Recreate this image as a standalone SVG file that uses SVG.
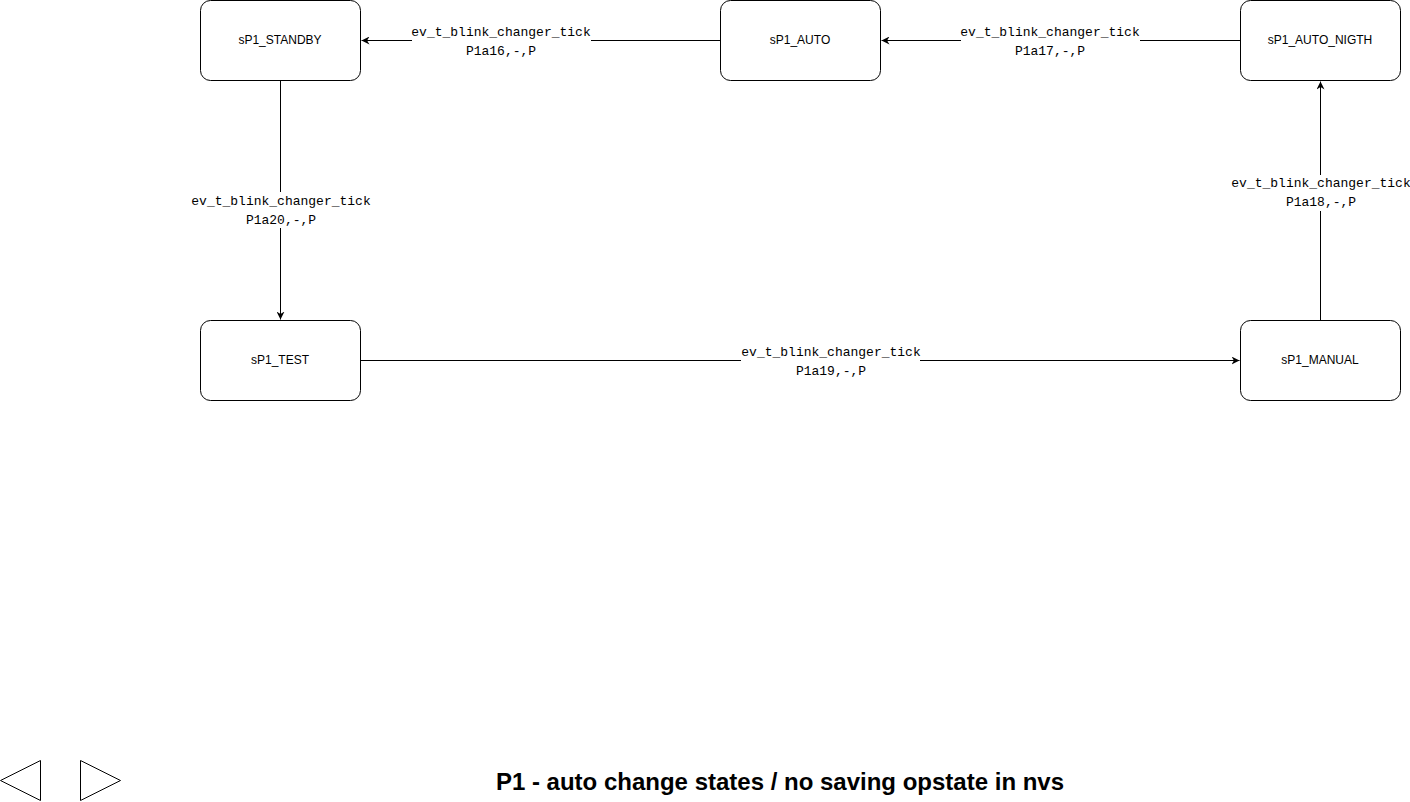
<svg xmlns="http://www.w3.org/2000/svg" width="1410" height="802" viewBox="0 0 1410 802">
<style>
.node rect{fill:#fff;stroke:#000;stroke-width:1}
.node text{font-family:"Liberation Sans",Arial,sans-serif;font-size:12px;text-anchor:middle;dominant-baseline:central;fill:#000}
.edge{stroke:#000;stroke-width:1;fill:none;marker-end:url(#arr)}
.lbl{font-family:"Liberation Mono","DejaVu Sans Mono",monospace;font-size:13px;text-anchor:middle;dominant-baseline:central;fill:#000}
.lblbg{fill:#fff}
.tri{fill:#fff;stroke:#000;stroke-width:1}
</style>
<defs>
<marker id="arr" viewBox="0 0 10 10" refX="10" refY="5" markerWidth="8" markerHeight="8" markerUnits="userSpaceOnUse" orient="auto">
<path d="M0,0 L10,5 L0,10 L3,5 Z" fill="#000"/>
</marker>
</defs>
<rect width="1410" height="802" fill="#fff"/>
<g id="connectors" transform="translate(0.5,0.5)">
<path class="edge" d="M720,40 L361,40"/>
<path class="edge" d="M1240,40 L881,40"/>
<path class="edge" d="M280,80 L280,319"/>
<path class="edge" d="M360,360 L1239,360"/>
<path class="edge" d="M1320,320 L1320,81"/>
</g>
<g id="labels">
<rect class="lblbg" x="412" y="24" width="179" height="36"/>
<text class="lbl" x="501" y="32">ev_t_blink_changer_tick</text>
<text class="lbl" x="501" y="51">P1a16,-,P</text>
<rect class="lblbg" x="961" y="24" width="179" height="36"/>
<text class="lbl" x="1050" y="32">ev_t_blink_changer_tick</text>
<text class="lbl" x="1050" y="51">P1a17,-,P</text>
<rect class="lblbg" x="192" y="192" width="179" height="36"/>
<text class="lbl" x="281" y="201">ev_t_blink_changer_tick</text>
<text class="lbl" x="281" y="220">P1a20,-,P</text>
<rect class="lblbg" x="741" y="344" width="179" height="36"/>
<text class="lbl" x="831" y="352">ev_t_blink_changer_tick</text>
<text class="lbl" x="831" y="371">P1a19,-,P</text>
<rect class="lblbg" x="1232" y="175" width="179" height="36"/>
<text class="lbl" x="1321" y="183">ev_t_blink_changer_tick</text>
<text class="lbl" x="1321" y="202">P1a18,-,P</text>
</g>
<g id="sP1_STANDBY" class="node"><rect x="200.5" y="0.5" width="160" height="80" rx="10" ry="10"/><text x="280" y="40">sP1_STANDBY</text></g>
<g id="sP1_AUTO" class="node"><rect x="720.5" y="0.5" width="160" height="80" rx="10" ry="10"/><text x="800" y="40">sP1_AUTO</text></g>
<g id="sP1_AUTO_NIGTH" class="node"><rect x="1240.5" y="0.5" width="160" height="80" rx="10" ry="10"/><text x="1320" y="40">sP1_AUTO_NIGTH</text></g>
<g id="sP1_TEST" class="node"><rect x="200.5" y="320.5" width="160" height="80" rx="10" ry="10"/><text x="280" y="360">sP1_TEST</text></g>
<g id="sP1_MANUAL" class="node"><rect x="1240.5" y="320.5" width="160" height="80" rx="10" ry="10"/><text x="1320" y="360">sP1_MANUAL</text></g>
<g id="nav">
<polygon class="tri" points="0.5,780.5 40.5,760.5 40.5,800.5"/>
<polygon class="tri" points="80.5,760.5 120.5,780.5 80.5,800.5"/>
</g>
<text x="780" y="781" font-family="'Liberation Sans',Arial,sans-serif" font-size="24" font-weight="bold" text-anchor="middle" dominant-baseline="central">P1 - auto change states / no saving opstate in nvs</text>
</svg>
